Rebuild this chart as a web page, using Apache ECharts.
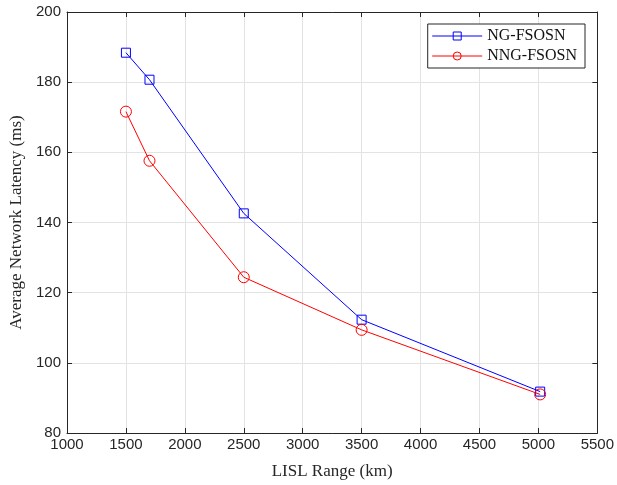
<!DOCTYPE html>
<html>
<head>
<meta charset="utf-8">
<script src="https://cdn.jsdelivr.net/npm/echarts@6/dist/echarts.min.js"></script>
<style>
  html, body { margin: 0; padding: 0; background: #fff; }
  #chart { width: 617px; height: 485px; }
</style>
</head>
<body>
<div id="chart"></div>
<script>
// LISL range (km) vs latency (ms)
const lislRange = [1500, 1700, 2500, 3500, 5015]
const ngLatency = [188.4, 180.7, 142.6, 112.3, 91.8]
const nngLatency = [171.6, 157.6, 124.4, 109.4, 91.0]
const seriesNames = ['NG-FSOSN', 'NNG-FSOSN']

const toPairs = (xs, ys) => xs.map((x, i) => [x, ys[i]])

const chart = echarts.init(document.getElementById('chart'))

const tickStyle = { inside: true, length: 5, lineStyle: { color: '#262626' } }
const axisLine = { show: true, lineStyle: { color: '#262626', width: 1 } }
const gridLine = { show: true, lineStyle: { color: '#e3e3e3', width: 1 } }
const tickLabel = { fontFamily: 'Liberation Sans', fontSize: 15, color: '#262626' }

const option = {
  animation: false,
  backgroundColor: '#fff',
  grid: { left: 67, right: 16, top: 12, bottom: 52 },
  legend: {
    data: seriesNames,
    right: 32,
    top: 24,
    orient: 'vertical',
    backgroundColor: '#fff',
    borderColor: '#262626',
    borderWidth: 1,
    padding: [4, 8, 4, 4],
    itemWidth: 50,
    itemHeight: 10,
    itemGap: 4,
    itemStyle: { borderWidth: 1 },
    lineStyle: { width: 1 },
    textStyle: { fontFamily: 'Liberation Serif', fontSize: 16, color: '#111' }
  },
  xAxis: [
    {
      type: 'value', min: 1000, max: 5500, interval: 500,
      name: 'LISL Range (km)', nameLocation: 'middle', nameGap: 30,
      nameTextStyle: { fontFamily: 'Liberation Serif', fontSize: 17, color: '#262626' },
      axisLine, axisTick: tickStyle, splitLine: gridLine,
      axisLabel: { ...tickLabel, margin: 4, formatter: v => String(v) }
    },
    {
      type: 'value', min: 1000, max: 5500, interval: 500, position: 'top',
      axisLine, axisTick: tickStyle, splitLine: { show: false }, axisLabel: { show: false }
    }
  ],
  yAxis: [
    {
      type: 'value', min: 80, max: 200, interval: 20,
      name: 'Average Network Latency (ms)', nameLocation: 'middle', nameGap: 42,
      nameTextStyle: { fontFamily: 'Liberation Serif', fontSize: 17, color: '#262626' },
      axisLine, axisTick: tickStyle, splitLine: gridLine,
      axisLabel: { ...tickLabel, margin: 6 }
    },
    {
      type: 'value', min: 80, max: 200, interval: 20, position: 'right',
      axisLine, axisTick: tickStyle, splitLine: { show: false }, axisLabel: { show: false }
    }
  ],
  series: [
    {
      name: seriesNames[0],
      type: 'line',
      data: toPairs(lislRange, ngLatency),
      symbol: 'rect',
      symbolSize: 9,
      itemStyle: { color: 'rgba(255,255,255,0)', borderColor: '#0000ff', borderWidth: 1 },
      lineStyle: { color: '#0000ff', width: 1 }
    },
    {
      name: seriesNames[1],
      type: 'line',
      data: toPairs(lislRange, nngLatency),
      symbol: 'circle',
      symbolSize: 11,
      itemStyle: { color: 'rgba(255,255,255,0)', borderColor: '#ff0000', borderWidth: 1 },
      lineStyle: { color: '#ff0000', width: 1 }
    }
  ]
}

chart.setOption(option)
</script>
</body>
</html>
